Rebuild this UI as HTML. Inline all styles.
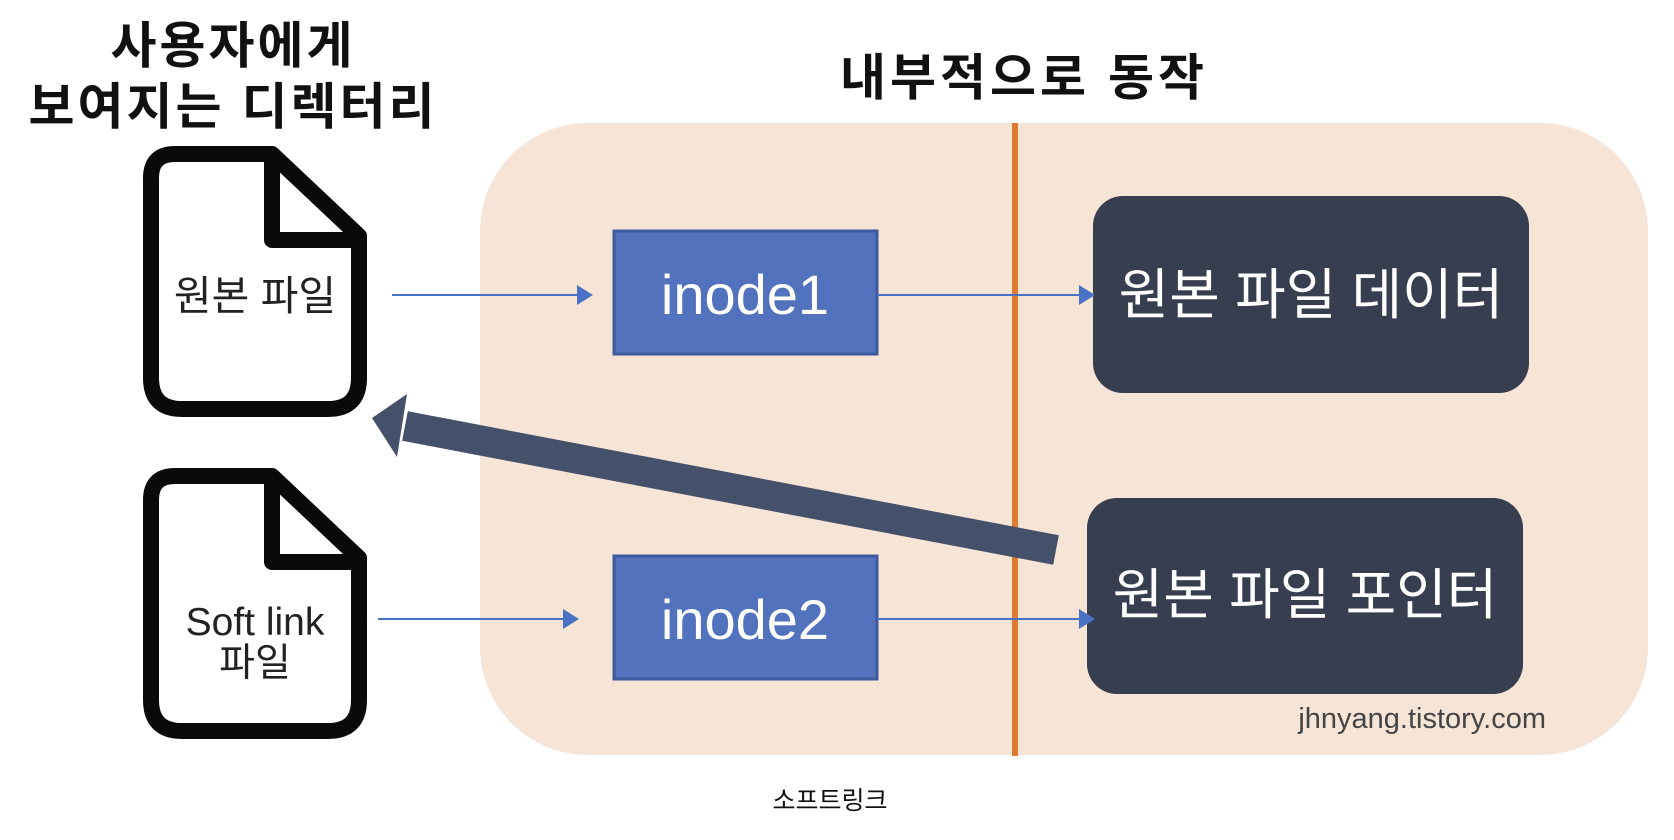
<!DOCTYPE html>
<html><head><meta charset="utf-8"><style>
html,body{margin:0;padding:0;background:#fff;}
svg{display:block}
text{font-family:"Liberation Sans","Noto Sans CJK KR",sans-serif;}
</style></head><body>
<svg width="1674" height="840" viewBox="0 0 1674 840" xmlns="http://www.w3.org/2000/svg">
<rect x="480" y="123" width="1168" height="632" rx="108" fill="#f6e4d7"/>
<line x1="1015" y1="123" x2="1015" y2="756" stroke="#e07a33" stroke-width="6"/>
<text x="1024" y="95" font-size="50" font-weight="bold" text-anchor="middle" letter-spacing="4" fill="#111">내부적으로 동작</text>
<text x="233" y="63" font-size="50" font-weight="bold" text-anchor="middle" letter-spacing="3" fill="#111">사용자에게</text>
<text x="233" y="124" font-size="50" font-weight="bold" text-anchor="middle" letter-spacing="3" fill="#111">보여지는 디렉터리</text>
<!-- files -->
<g fill="#fff" stroke="#0a0a0a" stroke-width="16" stroke-linejoin="round">
<path d="M175,154 L272,154 L359,236 L359,378 Q359,409 328,409 L182,409 Q151,409 151,378 L151,178 Q151,154 175,154 Z"/>
<path d="M272,154 L272,240 L359,240" fill="none"/>
<path d="M175,476 L272,476 L359,558 L359,700 Q359,731 328,731 L182,731 Q151,731 151,700 L151,500 Q151,476 175,476 Z"/>
<path d="M272,476 L272,562 L359,562" fill="none"/>
</g>
<text x="255" y="310" font-size="41" text-anchor="middle" fill="#222">원본 파일</text>
<text x="255" y="635" font-size="39" text-anchor="middle" fill="#222">Soft link</text>
<text x="255" y="676" font-size="39" text-anchor="middle" fill="#222">파일</text>
<!-- inodes -->
<rect x="614" y="231" width="263" height="123" fill="#5272be" stroke="#3c5a9c" stroke-width="3"/>
<rect x="614" y="556" width="263" height="123" fill="#5272be" stroke="#3c5a9c" stroke-width="3"/>
<text x="745" y="314" font-size="56" text-anchor="middle" fill="#fff">inode1</text>
<text x="745" y="639" font-size="56" text-anchor="middle" fill="#fff">inode2</text>
<!-- dark boxes -->
<rect x="1093" y="196" width="436" height="197" rx="30" fill="#363e4f"/>
<rect x="1087" y="498" width="436" height="196" rx="30" fill="#363e4f"/>
<text x="1311" y="314" font-size="55" text-anchor="middle" fill="#fff">원본 파일 데이터</text>
<text x="1305" y="614" font-size="55" text-anchor="middle" fill="#fff">원본 파일 포인터</text>
<!-- thin arrows -->
<g stroke="#4a72c4" stroke-width="2">
<line x1="392" y1="295" x2="580" y2="295"/>
<line x1="877" y1="295" x2="1082" y2="295"/>
<line x1="378" y1="619" x2="566" y2="619"/>
<line x1="877" y1="619" x2="1082" y2="619"/>
</g>
<g fill="#4a72c4">
<polygon points="593,295 577,285 577,305"/>
<polygon points="1095,295 1079,285 1079,305"/>
<polygon points="579,619 563,609 563,629"/>
<polygon points="1095,619 1079,609 1079,629"/>
</g>
<!-- big arrow -->
<line x1="1056" y1="550" x2="405" y2="426" stroke="#45516a" stroke-width="30"/>
<polygon points="372,418 407,394 397,457" fill="#45516a"/>
<text x="1546" y="728" font-size="29" text-anchor="end" fill="#444">jhnyang.tistory.com</text>
<text x="830" y="809" font-size="25" text-anchor="middle" fill="#111">소프트링크</text>
</svg>
</body></html>
